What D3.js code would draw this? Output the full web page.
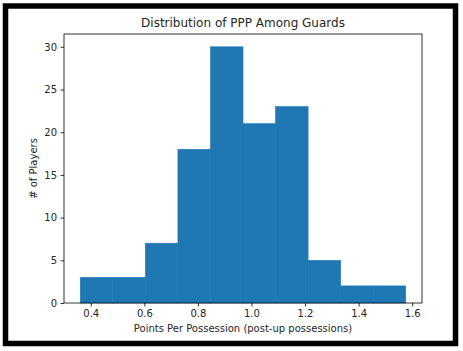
<!DOCTYPE html>
<html>
<head>
<meta charset="utf-8">
<script src="https://cdn.jsdelivr.net/npm/d3@7"></script>
<style>
  body { margin: 0; background: #fff; }
  text { font-family: "DejaVu Sans", sans-serif; fill: #262626; }
</style>
</head>
<body>
<div id="chart"></div>
<script>
// histogram bins (10 equal bins)
var binStart = 0.3608;
var binEnd = 1.576;
var counts = [3, 3, 7, 18, 30, 21, 23, 5, 2, 2];
var xTicks = [0.4, 0.6, 0.8, 1.0, 1.2, 1.4, 1.6];
var yTicks = [0, 5, 10, 15, 20, 25, 30];

var w = 463;
var h = 351;
var margin = ({top: 34, right: 41, bottom: 48, left: 64});

var binW = (binEnd - binStart) / counts.length;
var bins = counts.map((c, i) => ({x0: binStart + i * binW, x1: binStart + (i + 1) * binW, n: c}));

var pad = (binEnd - binStart) * 0.05;
var x = d3.scaleLinear()
     .domain([binStart - pad, binEnd + pad])
     .range([margin.left, w - margin.right]);

var y = d3.scaleLinear()
     .domain([0, d3.max(counts) * 1.05])
     .range([h - margin.bottom, margin.top]);

var svg = d3.select('#chart')
     .append('svg')
     .attr('width', w)
     .attr('height', h);

// outer black frame
svg.append('rect')
     .attr('x', 5.5).attr('y', 6)
     .attr('width', 450).attr('height', 337.5)
     .attr('fill', 'none')
     .attr('stroke', '#000')
     .attr('stroke-width', 5.5);

svg.selectAll('rect.bar')
     .data(bins)
     .enter()
     .append('rect')
     .attr('class', 'bar')
     .attr('x', d => x(d.x0))
     .attr('width', d => x(d.x1) - x(d.x0))
     .attr('y', d => y(d.n))
     .attr('height', d => y(0) - y(d.n))
     .attr('fill', '#1f77b4')
     .attr('stroke', '#1f77b4')
     .attr('stroke-width', 0.6);

var xAxis = d3.axisBottom(x)
     .tickValues(xTicks)
     .tickFormat(d3.format('.1f'))
     .tickSize(3.5)
     .tickPadding(3.5);

var yAxis = d3.axisLeft(y)
     .tickValues(yTicks)
     .tickSize(3.5)
     .tickPadding(3.5);

svg.append('g')
     .attr('transform', 'translate(0,' + (h - margin.bottom) + ')')
     .call(xAxis)
     .call(g => g.select('.domain').remove());

svg.append('g')
     .attr('transform', 'translate(' + margin.left + ',0)')
     .call(yAxis)
     .call(g => g.select('.domain').remove());

svg.selectAll('.tick text')
     .attr('font-size', 10)
     .attr('font-family', '"DejaVu Sans", sans-serif')
     .attr('fill', '#262626');
svg.selectAll('.tick line').attr('stroke', '#000').attr('stroke-width', 0.8);

// axes box
svg.append('rect')
     .attr('x', margin.left).attr('y', margin.top)
     .attr('width', w - margin.right - margin.left)
     .attr('height', h - margin.bottom - margin.top)
     .attr('fill', 'none')
     .attr('stroke', '#000')
     .attr('stroke-width', 0.8);

svg.append('text')
     .attr('x', (margin.left + w - margin.right) / 2)
     .attr('y', 27)
     .attr('text-anchor', 'middle')
     .attr('font-size', 12)
     .text('Distribution of PPP Among Guards');

svg.append('text')
     .attr('x', (margin.left + w - margin.right) / 2)
     .attr('y', 332)
     .attr('text-anchor', 'middle')
     .attr('font-size', 10)
     .text('Points Per Possession (post-up possessions)');

svg.append('text')
     .attr('transform', 'translate(37,' + ((margin.top + h - margin.bottom) / 2) + ') rotate(-90)')
     .attr('text-anchor', 'middle')
     .attr('font-size', 10)
     .text('# of Players');
</script>
</body>
</html>
